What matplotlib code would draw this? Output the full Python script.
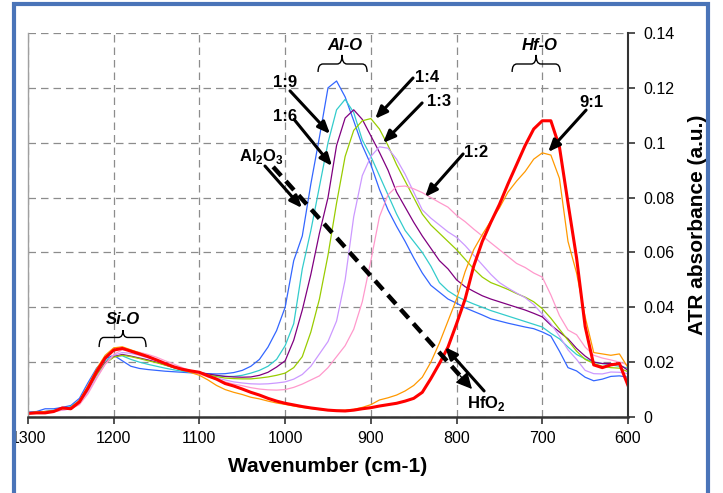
import matplotlib
matplotlib.use('Agg')
import matplotlib.pyplot as plt
from matplotlib.path import Path
from matplotlib.patches import PathPatch, Rectangle
from matplotlib.ticker import FuncFormatter
from matplotlib.transforms import Bbox, TransformedBbox

plt.rcParams['font.family'] = ['Liberation Sans', 'DejaVu Sans']
plt.rcParams['mathtext.fontset'] = 'custom'
plt.rcParams['mathtext.rm'] = 'Liberation Sans'
plt.rcParams['mathtext.bf'] = 'Liberation Sans:bold'

# Wavenumber grid (cm-1), 1300 -> 600
wn = list(range(1300, 599, -10))

al2o3 = [0.0018, 0.0020, 0.0030, 0.0030, 0.0035, 0.0042, 0.0068, 0.0125, 0.0178, 0.0212,
         0.0225, 0.0205, 0.0185, 0.0177, 0.0173, 0.0170, 0.0167, 0.0165, 0.0163, 0.0161,
         0.0160, 0.0158, 0.0157, 0.0158, 0.0162, 0.0170, 0.0185, 0.0210, 0.0255, 0.0315,
         0.0400, 0.0570, 0.0660, 0.0850, 0.1020, 0.1200, 0.1225, 0.1167, 0.1080, 0.0990,
         0.0920, 0.0830, 0.0755, 0.0695, 0.0640, 0.0580, 0.0525, 0.0480, 0.0455, 0.0430,
         0.0415, 0.0398, 0.0385, 0.0372, 0.0358, 0.0350, 0.0342, 0.0335, 0.0328, 0.0322,
         0.0310, 0.0295, 0.0240, 0.0180, 0.0168, 0.0145, 0.0132, 0.0138, 0.0148, 0.0150,
         0.0145]
r_1_9 = [0.0015, 0.0018, 0.0020, 0.0025, 0.0030, 0.0038, 0.0060, 0.0110, 0.0165, 0.0205,
         0.0222, 0.0223, 0.0210, 0.0200, 0.0192, 0.0185, 0.0178, 0.0172, 0.0167, 0.0163,
         0.0160, 0.0155, 0.0150, 0.0148, 0.0148, 0.0152, 0.0160, 0.0170, 0.0185, 0.0210,
         0.0260, 0.0340, 0.0540, 0.0680, 0.0840, 0.1000, 0.1120, 0.1158, 0.1110, 0.1010,
         0.0950, 0.0880, 0.0810, 0.0740, 0.0680, 0.0640, 0.0600, 0.0550, 0.0490, 0.0460,
         0.0440, 0.0425, 0.0412, 0.0400, 0.0388, 0.0378, 0.0368, 0.0358, 0.0348, 0.0338,
         0.0328, 0.0305, 0.0285, 0.0255, 0.0228, 0.0212, 0.0200, 0.0195, 0.0190, 0.0185,
         0.0178]
r_1_6 = [0.0015, 0.0017, 0.0020, 0.0022, 0.0028, 0.0035, 0.0055, 0.0100, 0.0155, 0.0198,
         0.0220, 0.0228, 0.0222, 0.0215, 0.0208, 0.0200, 0.0190, 0.0180, 0.0172, 0.0166,
         0.0162, 0.0157, 0.0152, 0.0148, 0.0146, 0.0145, 0.0146, 0.0152, 0.0163, 0.0182,
         0.0205, 0.0280, 0.0390, 0.0520, 0.0670, 0.0800, 0.0990, 0.1090, 0.1120, 0.1085,
         0.1025, 0.0965, 0.0900, 0.0820, 0.0765, 0.0710, 0.0660, 0.0615, 0.0570, 0.0540,
         0.0500, 0.0475, 0.0458, 0.0442, 0.0430, 0.0420, 0.0410, 0.0400, 0.0390, 0.0378,
         0.0365, 0.0335, 0.0310, 0.0285, 0.0250, 0.0222, 0.0200, 0.0195, 0.0195, 0.0192,
         0.0170]
r_1_4 = [0.0015, 0.0017, 0.0019, 0.0022, 0.0027, 0.0033, 0.0055, 0.0100, 0.0152, 0.0195,
         0.0218, 0.0225, 0.0220, 0.0213, 0.0205, 0.0198, 0.0189, 0.0180, 0.0172, 0.0166,
         0.0160, 0.0153, 0.0147, 0.0142, 0.0140, 0.0139, 0.0139, 0.0142, 0.0146, 0.0152,
         0.0160, 0.0180, 0.0220, 0.0310, 0.0430, 0.0590, 0.0780, 0.0950, 0.1045, 0.1080,
         0.1088, 0.1050, 0.0990, 0.0920, 0.0860, 0.0800, 0.0740, 0.0700, 0.0670, 0.0640,
         0.0610, 0.0575, 0.0540, 0.0510, 0.0490, 0.0478, 0.0465, 0.0450, 0.0437, 0.0420,
         0.0395, 0.0360, 0.0320, 0.0280, 0.0240, 0.0210, 0.0195, 0.0185, 0.0180, 0.0178,
         0.0165]
r_1_3 = [0.0013, 0.0015, 0.0017, 0.0020, 0.0025, 0.0030, 0.0050, 0.0092, 0.0145, 0.0192,
         0.0225, 0.0235, 0.0232, 0.0225, 0.0216, 0.0205, 0.0195, 0.0185, 0.0175, 0.0166,
         0.0158, 0.0150, 0.0142, 0.0135, 0.0128, 0.0124, 0.0121, 0.0120, 0.0121, 0.0124,
         0.0128, 0.0138, 0.0155, 0.0185, 0.0230, 0.0275, 0.0350, 0.0500, 0.0730, 0.0880,
         0.0950, 0.0985, 0.0980, 0.0940, 0.0885, 0.0820, 0.0755, 0.0725, 0.0700, 0.0675,
         0.0655, 0.0625, 0.0590, 0.0555, 0.0520, 0.0490, 0.0470, 0.0452, 0.0435, 0.0410,
         0.0375, 0.0340, 0.0295, 0.0245, 0.0210, 0.0170, 0.0158, 0.0157, 0.0164, 0.0163,
         0.0158]
r_1_2 = [0.0013, 0.0015, 0.0017, 0.0020, 0.0025, 0.0030, 0.0045, 0.0085, 0.0140, 0.0192,
         0.0228, 0.0245, 0.0243, 0.0236, 0.0228, 0.0218, 0.0205, 0.0193, 0.0180, 0.0168,
         0.0157, 0.0146, 0.0137, 0.0128, 0.0120, 0.0114, 0.0107, 0.0102, 0.0099, 0.0098,
         0.0100, 0.0108, 0.0120, 0.0135, 0.0150, 0.0180, 0.0220, 0.0260, 0.0320, 0.0420,
         0.0570, 0.0730, 0.0810, 0.0840, 0.0842, 0.0832, 0.0818, 0.0800, 0.0782, 0.0765,
         0.0735, 0.0712, 0.0685, 0.0660, 0.0635, 0.0610, 0.0585, 0.0560, 0.0545, 0.0525,
         0.0510, 0.0445, 0.0370, 0.0317, 0.0300, 0.0255, 0.0225, 0.0215, 0.0208, 0.0200,
         0.0190]
r_9_1 = [0.0015, 0.0018, 0.0020, 0.0022, 0.0030, 0.0035, 0.0060, 0.0115, 0.0175, 0.0225,
         0.0252, 0.0256, 0.0245, 0.0234, 0.0222, 0.0208, 0.0195, 0.0183, 0.0172, 0.0162,
         0.0152, 0.0135, 0.0115, 0.0100, 0.0090, 0.0082, 0.0072, 0.0066, 0.0058, 0.0051,
         0.0046, 0.0040, 0.0035, 0.0031, 0.0027, 0.0025, 0.0024, 0.0025, 0.0028, 0.0035,
         0.0045, 0.0062, 0.0070, 0.0080, 0.0095, 0.0115, 0.0145, 0.0200, 0.0270, 0.0350,
         0.0430, 0.0530, 0.0610, 0.0665, 0.0715, 0.0762, 0.0820, 0.0860, 0.0895, 0.0940,
         0.0963, 0.0955, 0.0870, 0.0640, 0.0525, 0.0365, 0.0235, 0.0230, 0.0225, 0.0230,
         0.0180]
hfo2 = [0.0013, 0.0015, 0.0015, 0.0020, 0.0033, 0.0030, 0.0055, 0.0105, 0.0165, 0.0215,
        0.0244, 0.0250, 0.0240, 0.0230, 0.0220, 0.0208, 0.0195, 0.0183, 0.0174, 0.0168,
        0.0163, 0.0150, 0.0138, 0.0122, 0.0113, 0.0102, 0.0090, 0.0080, 0.0068, 0.0058,
        0.0050, 0.0044, 0.0038, 0.0033, 0.0029, 0.0025, 0.0023, 0.0022, 0.0025, 0.0030,
        0.0034, 0.0040, 0.0045, 0.0050, 0.0058, 0.0068, 0.0090, 0.0140, 0.0195, 0.0255,
        0.0340, 0.0430, 0.0550, 0.0640, 0.0710, 0.0775, 0.0850, 0.0920, 0.0990, 0.1050,
        0.1080, 0.1080, 0.0985, 0.0780, 0.0580, 0.0330, 0.0190, 0.0180, 0.0190, 0.0195,
        0.0115]

series = [
    (al2o3, '#3366FF', 0.9),
    (r_1_9, '#33CCCC', 0.9),
    (r_1_6, '#800080', 0.9),
    (r_1_4, '#99CC00', 0.9),
    (r_1_3, '#CC99FF', 0.9),
    (r_1_2, '#FF99CC', 0.9),
    (r_9_1, '#FF9900', 0.9),
    (hfo2, '#FF0000', 2.2),
]

fig = plt.figure(figsize=(7.23, 4.93), dpi=100)
ax = fig.add_axes([28/723, 1 - 417/493, 600/723, 384/493])

for ys, col, lw in series:
    ax.plot(wn, ys, color=col, lw=lw)

ax.set_xlim(1300, 600)
ax.set_ylim(0, 0.14)
ax.set_xticks(range(1300, 599, -100))
ax.set_yticks([0, 0.02, 0.04, 0.06, 0.08, 0.1, 0.12, 0.14])
ax.yaxis.set_major_formatter(FuncFormatter(lambda v, p: '0' if v == 0 else '%g' % v))
ax.yaxis.tick_right()
ax.yaxis.set_label_position('right')
ax.tick_params(axis='both', direction='out', length=5, width=1.2, labelsize=11.5, color='#333333')
ax.tick_params(axis='y', pad=6)
ax.tick_params(axis='x', pad=5)
ax.grid(True, linestyle=(0, (6, 4)), color='#8c8c8c', linewidth=0.9)
ax.set_axisbelow(True)
ax.spines['top'].set_visible(False)
ax.spines['left'].set_color('#a0a0a0')
ax.spines['left'].set_linewidth(1.0)
ax.spines['right'].set_color('#333333')
ax.spines['right'].set_linewidth(1.5)
ax.spines['bottom'].set_color('#333333')
ax.spines['bottom'].set_linewidth(1.8)

ax.set_xlabel('Wavenumber (cm-1)', fontsize=15, fontweight='bold', labelpad=8)
ax.set_ylabel('ATR absorbance (a.u.)', fontsize=15, fontweight='bold', labelpad=10)


def brace(x0, x1, xc, ylow, ymid, ytop):
    r = (x1 - x0) * 0.1
    verts = [(x0, ylow), (x0, ymid), (x0 + r, ymid), (xc - r, ymid), (xc, ymid), (xc, ytop),
             (xc, ymid), (xc + r, ymid), (x1 - r, ymid), (x1, ymid), (x1, ylow)]
    codes = [Path.MOVETO, Path.CURVE3, Path.CURVE3, Path.LINETO, Path.CURVE3, Path.CURVE3,
             Path.CURVE3, Path.CURVE3, Path.LINETO, Path.CURVE3, Path.CURVE3]
    ax.add_patch(PathPatch(Path(verts, codes), fc='none', ec='black', lw=1.0))


def arrow(start, tip, lw=2.2):
    ax.annotate('', xy=tip, xytext=start,
                arrowprops=dict(arrowstyle='-|>,head_length=0.6,head_width=0.25',
                                mutation_scale=12, lw=lw, color='black',
                                shrinkA=0, shrinkB=0))


# band labels
band_style = dict(fontsize=12, fontweight='bold', fontstyle='italic', ha='center', va='center')
ax.text(930, 0.1356, 'Al-O', **band_style)
brace(961.6, 904.4, 933.6, 0.1258, 0.1287, 0.1320)
ax.text(702.6, 0.1356, 'Hf-O', **band_style)
brace(735.2, 679.2, 707.2, 0.1258, 0.1287, 0.1320)
ax.text(1189, 0.0354, 'Si-O', **band_style)
brace(1217, 1162.3, 1189.2, 0.0255, 0.0290, 0.0317)

# sample labels and arrows
lab = dict(fontsize=12, fontweight='bold', ha='center', va='center')
ax.text(1000, 0.1221, '1:9', **lab)
arrow((994.3, 0.1189), (947.6, 0.1032))
ax.text(1000, 0.1097, '1:6', **lab)
arrow((989.6, 0.1085), (945.3, 0.0915))
ax.text(1027, 0.0948, r'Al$_\mathbf{2}$O$_\mathbf{3}$', **lab)
arrow((1023.5, 0.0915), (980.3, 0.0762))
ax.text(834.4, 0.1236, '1:4', **lab)
arrow((850.8, 0.1236), (895, 0.1087))
ax.text(820.4, 0.1152, '1:3', **lab)
arrow((840.2, 0.1145), (885.8, 0.0999))
ax.text(777.2, 0.0963, '1:2', **lab)
arrow((792.4, 0.0959), (836.8, 0.0802))
ax.text(643.1, 0.1148, '9:1', **lab)
arrow((648.9, 0.1119), (693.2, 0.0966))
ax.text(765.6, 0.0051, r'HfO$_\mathbf{2}$', **lab)
arrow((767.9, 0.0095), (813.4, 0.0255))

# dashed trend arrow Al2O3 -> HfO2
d_start = (1014, 0.0912)
d_end = (782, 0.0102)
d_mid = (d_end[0] + 0.06 * (d_start[0] - d_end[0]), d_end[1] + 0.06 * (d_start[1] - d_end[1]))
ax.plot([d_start[0], d_mid[0]], [d_start[1], d_mid[1]], color='black', lw=3.2,
        linestyle=(0, (2.7, 1.6)), solid_capstyle='butt')
ax.annotate('', xy=d_end, xytext=d_mid,
            arrowprops=dict(arrowstyle='-|>,head_length=0.7,head_width=0.35',
                            mutation_scale=14, lw=1, color='black', shrinkA=0, shrinkB=0))

# outer blue frame
fig.patches.append(Rectangle((14/723, -0.05), 694/723, 0.05 + 1 - 4/493, transform=fig.transFigure,
                             fill=False, ec='#4A74B8', lw=3.0))

# the chart border hides the first digit of the left-most tick label
fig.canvas.draw()
clip = TransformedBbox(Bbox([[16/723, 0], [1, 1]]), fig.transFigure)
first = ax.get_xticklabels()[0]
first.set_clip_box(clip)
first.set_clip_on(True)

fig.savefig('out.png', dpi=100)
